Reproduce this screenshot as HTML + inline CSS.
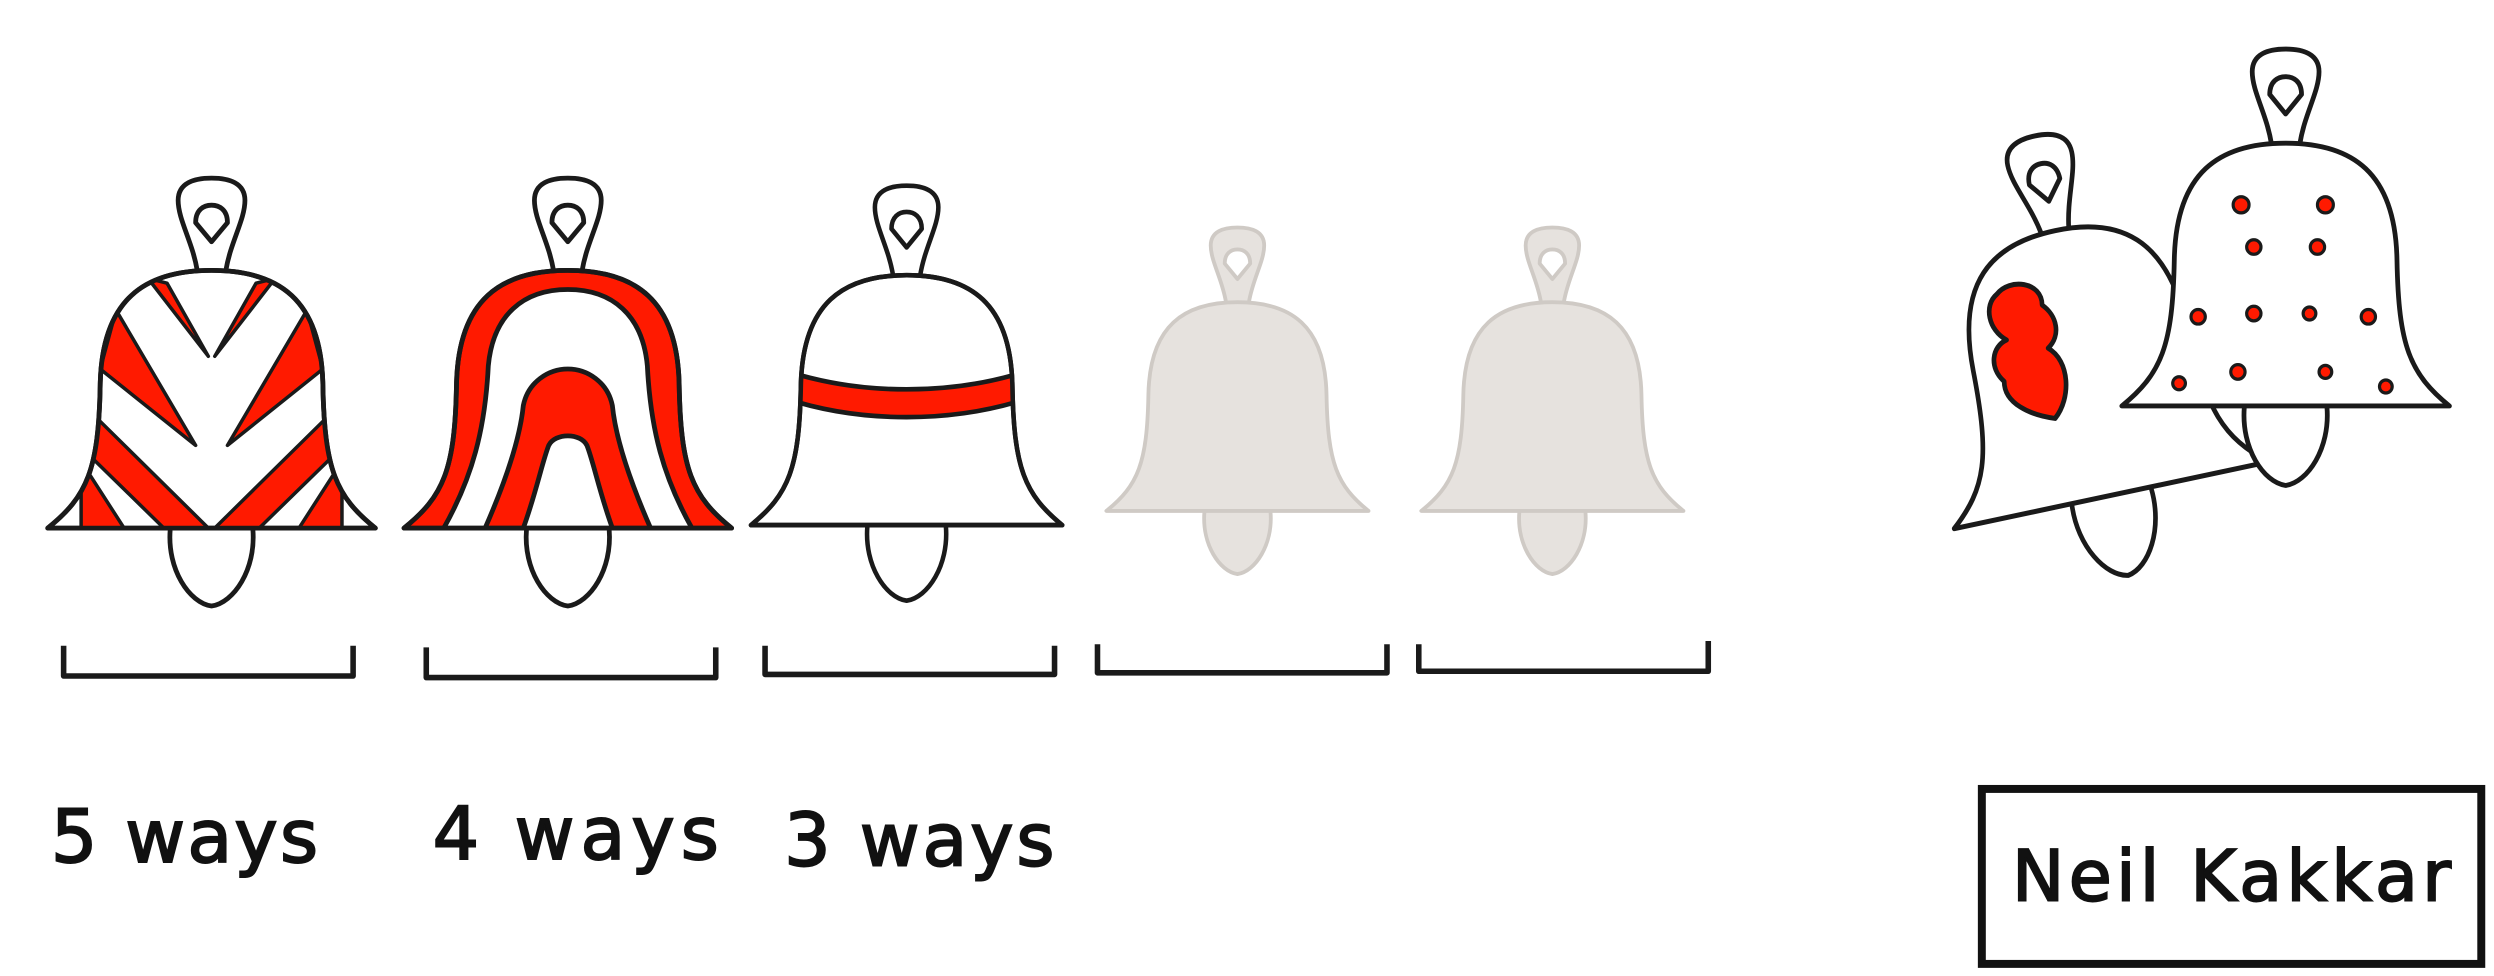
<!DOCTYPE html>
<html><head><meta charset="utf-8"><style>
html,body{margin:0;padding:0;background:#fff}
svg{display:block}
text{font-family:"DejaVu Sans","Liberation Sans",sans-serif;fill:#111;stroke:#111;stroke-width:1.2}
</style></head><body>
<svg width="2494" height="976" viewBox="0 0 1568 613.6">
<defs>
<path id="body" d="M0,0 C-42,0 -69,18 -70,72 C-71,125 -78,142 -103,162 L103,162 C78,142 71,125 70,72 C69,18 42,0 0,0 Z"/>
<path id="handle" d="M-9,0 C-12,-18 -21,-32 -21,-44 C-21,-55 -11,-58 0,-58 C11,-58 21,-55 21,-44 C21,-32 12,-18 9,0"/>
<path id="hole" d="M0,-18 L-10,-30 C-10,-38 -5,-41 0,-41 C5,-41 10,-38 10,-30 Z"/>
<path id="clapper" d="M-26,0 C-28,25 -14,46 0,48 C14,46 28,25 26,0"/>
<clipPath id="c1"><use href="#body"/></clipPath>
</defs>
<g stroke="#1a1a1a" stroke-width="3" fill="none" stroke-linejoin="round">
<g transform="translate(133,170)">
<use href="#handle" fill="#fff"/><use href="#hole"/>
<use href="#clapper" transform="translate(0,163)" fill="#fff"/>
<use href="#body" fill="#fff"/>
<g clip-path="url(#c1)" fill="#ff1a00" stroke-width="2.2">
<path d="M-40,5 L-2,54 L-28,8 Z M40,5 L2,54 L28,8 Z"/>
<path d="M-60,25 L-10,110 L-70,62 Z M60,25 L10,110 L70,62 Z"/>
<path d="M-75,90 L-2,162 L-30,162 L-75,118 Z M75,90 L2,162 L30,162 L75,118 Z"/>
<path d="M-82,120 L-55,162 L-82,162 Z M82,120 L55,162 L82,162 Z"/>
</g>
<use href="#body"/>
</g>
<g transform="translate(357,170)">
<use href="#handle" fill="#fff"/><use href="#hole"/>
<use href="#clapper" transform="translate(0,163)" fill="#fff"/>
<use href="#body" fill="#ff1a00"/>
<path d="M-78,162 C-60,130 -52,100 -50,60 C-47,28 -28,12 0,12 C28,12 47,28 50,60 C52,100 60,130 78,162 Z" fill="#fff"/>
<path d="M-52,162 C-38,130 -30,105 -28,85 C-25,70 -12,62 0,62 C12,62 25,70 28,85 C30,105 38,130 52,162 Z" fill="#ff1a00"/>
<path d="M-28,162 C-20,140 -16,120 -12,110 C-8,102 8,102 12,110 C16,120 20,140 28,162 Z" fill="#fff"/>
<use href="#body"/>
</g>
<g transform="translate(570,173) scale(0.95,0.97)">
<use href="#handle" fill="#fff"/><use href="#hole"/>
<use href="#clapper" transform="translate(0,163)" fill="#fff"/>
<use href="#body" fill="#fff"/>
<g clip-path="url(#c1)"><path d="M-80,62 C-30,78 30,78 80,62 L80,80 C30,96 -30,96 -80,80 Z" fill="#ff1a00"/></g>
<use href="#body"/>
</g>
<g transform="translate(778,190) scale(0.8,0.81)" stroke="#cfcac5" fill="#e6e2de">
<use href="#handle"/><use href="#hole" fill="#fff"/>
<use href="#clapper" transform="translate(0,163)"/>
<use href="#body"/>
</g>
<g transform="translate(976,190) scale(0.8,0.81)" stroke="#cfcac5" fill="#e6e2de">
<use href="#handle"/><use href="#hole" fill="#fff"/>
<use href="#clapper" transform="translate(0,163)"/>
<use href="#body"/>
</g>
<g stroke-width="3.5" stroke="#1a1a1a">
<path d="M40,406 V425 H222 V406"/>
<path d="M268,407 V426 H450 V407"/>
<path d="M481,406 V424 H663 V406"/>
<path d="M690,405 V423 H872 V405"/>
<path d="M892,405 V422 H1074 V403"/>
</g>
<g transform="translate(1292,145) rotate(-12) scale(0.98,1.05)">
<use href="#handle" fill="#fff"/><use href="#hole"/>
<use href="#clapper" transform="translate(0,163)" fill="#fff"/>
<use href="#body" fill="#fff"/>
<path d="M-45,30 C-35,22 -15,28 -18,42 C-10,50 -10,62 -20,68 C-8,78 -12,100 -25,110 C-40,105 -55,95 -52,82 C-60,72 -55,60 -45,58 C-55,50 -55,35 -45,30 Z" fill="#ff1a00"/>
</g>
<g transform="translate(1437,90) scale(1,1.02)">
<use href="#handle" fill="#fff"/><use href="#hole"/>
<use href="#clapper" transform="translate(0,163)" fill="#fff"/>
<use href="#body" fill="#fff"/>
<g fill="#ff1a00" stroke-width="2">
<circle cx="-28" cy="38" r="5"/><circle cx="25" cy="38" r="5"/>
<circle cx="-20" cy="64" r="4.5"/><circle cx="20" cy="64" r="4.5"/>
<circle cx="-55" cy="107" r="4.5"/><circle cx="-20" cy="105" r="4.5"/><circle cx="15" cy="105" r="4"/><circle cx="52" cy="107" r="4.5"/>
<circle cx="-67" cy="148" r="4"/><circle cx="-30" cy="141" r="4.5"/><circle cx="25" cy="141" r="4"/><circle cx="63" cy="150" r="4"/>
</g>
</g>
</g>
<text x="32" y="542" font-size="46" textLength="168">5 ways</text>
<text x="272" y="540" font-size="46" textLength="180">4 ways</text>
<text x="493" y="544" font-size="46" textLength="170">3 ways</text>
<rect x="1246" y="496" width="314" height="110" fill="none" stroke="#111" stroke-width="5"/>
<text x="1265" y="566" font-size="44" textLength="276">Neil Kakkar</text>
</svg>
</body></html>
